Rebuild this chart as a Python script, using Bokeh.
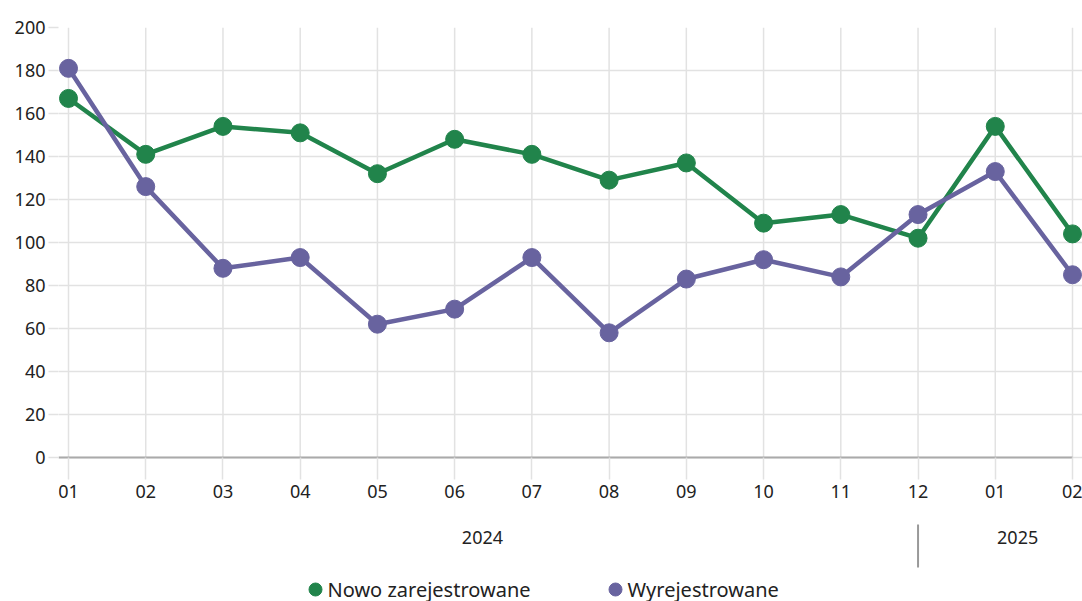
from bokeh.plotting import figure
from bokeh.models import ColumnDataSource, FixedTicker, Range1d
from bokeh.core.properties import value
from bokeh.embed import file_html
from bokeh.resources import INLINE

months = ["01", "02", "03", "04", "05", "06", "07", "08", "09", "10", "11", "12", "01", "02"]
years = ["2024", "2025"]
series_names = ["Nowo zarejestrowane", "Wyrejestrowane"]
nowo = [167, 141, 154, 151, 132, 148, 141, 129, 137, 109, 113, 102, 154, 104]
wyrej = [181, 126, 88, 93, 62, 69, 93, 58, 83, 92, 84, 113, 133, 85]

idx = list(range(len(months)))
GREEN = "#21844b"
PURPLE = "#68639f"
FONT = "Noto Sans"
GRID = "#e2e2e2"
PX_X = 77.23          # px per category
PX_Y = 2.15           # px per y unit
PAD = 10 / PX_X
XMAX = len(months) - 1
Y0_PX = 457           # pixel row of y = 0
BOTTOM_PX = 601
YMAX = 200


def ypx(py):
    """convert a pixel row below the axis into a y value"""
    return (Y0_PX - py) / PX_Y


def xpx(px):
    return (px - 68) / PX_X


src = ColumnDataSource(dict(x=idx, nowo=nowo, wyrej=wyrej))

p = figure(frame_width=1024, frame_height=BOTTOM_PX - 27, output_backend="svg", toolbar_location=None,
           x_range=Range1d(-PAD, XMAX + PAD), y_range=Range1d(ypx(BOTTOM_PX), YMAX),
           min_border_left=58, min_border_right=0, min_border_top=27, min_border_bottom=0)
p.outline_line_color = None
p.background_fill_color = "white"
p.border_fill_color = "white"

# grids: horizontal via Grid, vertical drawn only over the 0..200 band
p.xgrid.visible = False
p.ygrid.ticker = FixedTicker(ticks=list(range(0, YMAX + 1, 20)))
p.ygrid.grid_line_color = GRID
p.ygrid.grid_line_width = 1.5
p.ygrid.bounds = (-PAD, XMAX)
p.segment(x0=idx, y0=[0] * len(idx), x1=idx, y1=[YMAX] * len(idx), line_color=GRID, line_width=1.5)

# y axis
p.yaxis.ticker = FixedTicker(ticks=list(range(0, YMAX + 1, 20)))
p.yaxis.axis_line_color = None
p.yaxis.major_tick_out = 10
p.yaxis.major_tick_in = 0
p.yaxis.major_tick_line_color = GRID
p.yaxis.major_tick_line_width = 1.5
p.yaxis.minor_tick_line_color = None
p.yaxis.major_label_standoff = 3
p.yaxis.major_label_text_font = FONT
p.yaxis.major_label_text_font_size = "18px"
p.yaxis.major_label_text_color = "#222222"

# x axis (months) fixed at y = 0
xa = p.xaxis[0]
xa.fixed_location = 0
xa.ticker = FixedTicker(ticks=idx)
xa.bounds = (-PAD, XMAX)
xa.major_label_overrides = {i: m for i, m in enumerate(months)}
xa.axis_line_color = "#aaaaaa"
xa.axis_line_width = 2
xa.major_tick_out = 22
xa.major_tick_in = 0
xa.major_tick_line_color = GRID
xa.major_tick_line_width = 1.5
xa.minor_tick_line_color = None
xa.major_label_standoff = 5
xa.major_label_text_font = FONT
xa.major_label_text_font_size = "18px"
xa.major_label_text_color = "#222222"

# series
p.line("x", "nowo", source=src, line_color=GREEN, line_width=4.5)
p.scatter("x", "nowo", source=src, size=18, fill_color=GREEN, line_color=GREEN)
p.line("x", "wyrej", source=src, line_color=PURPLE, line_width=4.5)
p.scatter("x", "wyrej", source=src, size=18, fill_color=PURPLE, line_color=PURPLE)

# year labels and separator
p.text(x=[5.36, 12.29], y=[ypx(537)] * 2, text=years, text_align="center", text_baseline="middle",
       text_font=value(FONT), text_font_size="18px", text_color="#222222")
p.segment(x0=[11], y0=[ypx(524)], x1=[11], y1=[ypx(567)], line_color="#999999", line_width=2)

# legend drawn as glyphs
leg_x = [xpx(315), xpx(615)]
p.scatter(x=leg_x, y=[ypx(589)] * 2, size=13, fill_color=[GREEN, PURPLE], line_color=[GREEN, PURPLE])
p.text(x=[xpx(327), xpx(627)], y=[ypx(589)] * 2, text=series_names, text_align="left",
       text_baseline="middle", text_font=value(FONT), text_font_size="20px", text_color="#222222")

open("out.html", "w").write(file_html(p, INLINE))
